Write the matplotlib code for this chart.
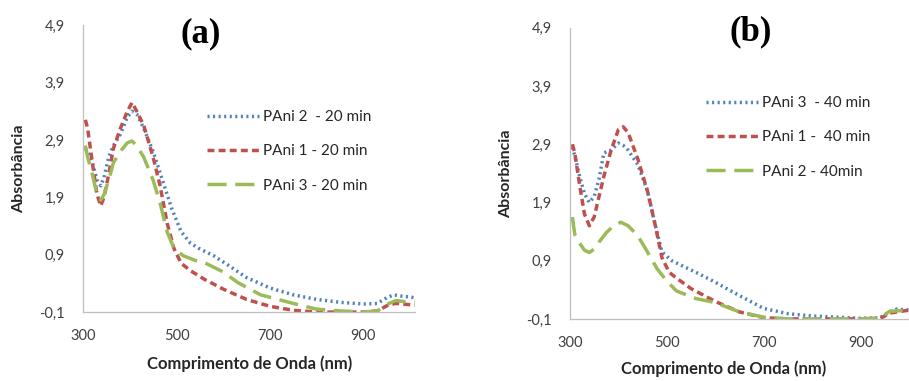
import matplotlib.pyplot as plt

# (a) 20 min
wl_a_blue = [305, 310, 320, 330, 338, 345, 355, 365, 380, 395, 405, 415, 430, 450, 470, 490, 510, 530,
             550, 580, 610, 650, 700, 750, 800, 850, 900, 930, 950, 965, 980, 1000, 1010]
abs_a_blue = [2.75, 2.7, 2.5, 2.2, 2.1, 2.25, 2.6, 2.8, 3.0, 3.3, 3.4, 3.35, 3.1, 2.7, 2.2, 1.7, 1.3, 1.1,
              1.0, 0.88, 0.72, 0.5, 0.32, 0.2, 0.12, 0.07, 0.04, 0.05, 0.15, 0.2, 0.18, 0.16, 0.15]
wl_a_red = [305, 310, 320, 330, 338, 345, 355, 365, 380, 395, 405, 415, 430, 450, 465, 480, 495, 510,
            530, 560, 600, 650, 700, 750, 800, 900, 930, 955, 970, 1010]
abs_a_red = [3.25, 3.1, 2.5, 1.95, 1.75, 1.9, 2.3, 2.75, 3.1, 3.4, 3.55, 3.4, 3.15, 2.6, 2.1, 1.45, 1.0, 0.75,
             0.62, 0.47, 0.3, 0.12, 0.0, -0.07, -0.1, -0.1, -0.08, 0.03, 0.05, 0.02]
wl_a_green = [305, 310, 320, 330, 338, 345, 355, 365, 380, 395, 405, 415, 430, 450, 465, 480, 495, 515,
              540, 560, 600, 630, 680, 750, 800, 850, 900, 930, 955, 970, 990, 1010]
abs_a_green = [2.8, 2.6, 2.3, 1.95, 1.85, 1.95, 2.2, 2.5, 2.7, 2.85, 2.88, 2.8, 2.6, 2.2, 1.8, 1.3, 1.0, 0.88,
               0.8, 0.76, 0.6, 0.42, 0.2, 0.05, -0.05, -0.08, -0.1, -0.08, 0.05, 0.1, 0.08, 0.07]

# (b) 40 min
wl_b_blue = [305, 310, 320, 330, 340, 350, 360, 370, 385, 400, 410, 420, 440, 460, 475, 490, 510, 530,
             560, 600, 650, 700, 750, 800, 850, 900, 940, 960, 975, 1000]
abs_b_blue = [2.85, 2.7, 2.35, 2.05, 1.9, 2.0, 2.3, 2.75, 2.8, 2.92, 2.88, 2.8, 2.55, 2.1, 1.55, 1.05, 0.9, 0.82,
              0.7, 0.53, 0.3, 0.08, -0.01, -0.05, -0.07, -0.09, -0.08, 0.02, 0.07, 0.05]
wl_b_red = [305, 310, 320, 330, 340, 350, 360, 370, 385, 400, 410, 420, 440, 460, 475, 490, 505, 520,
            550, 600, 650, 700, 750, 900, 940, 960, 1000]
abs_b_red = [2.9, 2.75, 2.2, 1.7, 1.5, 1.65, 2.0, 2.35, 2.8, 3.15, 3.2, 3.1, 2.65, 2.1, 1.55, 0.95, 0.7, 0.6,
             0.42, 0.2, 0.02, -0.08, -0.1, -0.1, -0.1, 0.0, 0.05]
wl_b_green = [305, 310, 320, 330, 340, 350, 360, 375, 390, 405, 420, 440, 460, 480, 500, 520, 560, 600,
              650, 700, 750, 900, 940, 960, 1000]
abs_b_green = [1.65, 1.35, 1.2, 1.08, 1.04, 1.1, 1.22, 1.38, 1.5, 1.56, 1.5, 1.33, 1.05, 0.76, 0.55, 0.38, 0.25, 0.18,
               0.02, -0.07, -0.1, -0.1, -0.08, 0.03, 0.05]

labels_a = ["PAni 2  - 20 min", "PAni 1 - 20 min", "PAni 3 - 20 min"]
labels_b = ["PAni 3  - 40 min", "PAni 1 -  40 min", "PAni 2 - 40min"]

yticks = [-0.1, 0.9, 1.9, 2.9, 3.9, 4.9]
xticks = [300, 500, 700, 900]

blue = "#4F81BD"
red = "#C0504D"
green = "#9BBB59"

plt.rcParams["font.family"] = ["Lato", "DejaVu Sans"]

fig = plt.figure(figsize=(9.09, 3.81), dpi=100)
ax1 = fig.add_axes([0.0913, 0.181, 0.365, 0.753])
ax2 = fig.add_axes([0.627, 0.163, 0.373, 0.764])


def draw(ax, series, labels, title, title_pos, legend_pos, xmax):
    lines = []
    for (x, y), color, ls in zip(series, [blue, red, green],
                                 [(0, (0.6, 1.0)), (0, (2.0, 1.2)), (0, (5.5, 2.5))]):
        ln, = ax.plot(x, y, color=color, lw=2.5, linestyle=ls)
        lines.append(ln)
    ax.set_xlim(300, xmax)
    ax.set_ylim(-0.1, 4.9)
    ax.set_xticks(xticks)
    ax.set_yticks(yticks)
    ax.set_yticklabels([f"{v:.1f}".replace(".", ",") for v in yticks])
    ax.tick_params(length=0, labelsize=10.5, colors="#404040")
    ax.tick_params(axis="x", pad=12)
    ax.tick_params(axis="y", pad=13)
    for s in ["top", "right"]:
        ax.spines[s].set_visible(False)
    for s in ["left", "bottom"]:
        ax.spines[s].set_color("#BFBFBF")
        ax.spines[s].set_linewidth(0.9)
    ax.set_xlabel("Comprimento de Onda (nm)", fontsize=12, fontweight="bold", color="#262626")
    ax.set_ylabel("Absorbância", fontsize=11.5, fontweight="bold", color="#262626")
    ax.text(title_pos[0], title_pos[1], title, transform=ax.transAxes, ha="center", va="center",
            fontsize=25, fontweight="bold", family="Liberation Serif")
    ax.legend(lines, labels, loc="upper left", bbox_to_anchor=legend_pos, frameon=False,
              fontsize=11, handlelength=3.45, labelspacing=1.33, handletextpad=0.25,
              borderpad=0, borderaxespad=0, labelcolor="#262626")


draw(ax1, [(wl_a_blue, abs_a_blue), (wl_a_red, abs_a_red), (wl_a_green, abs_a_green)],
     labels_a, "(a)", (0.355, 0.969), (0.373, 0.704), 1010)
draw(ax2, [(wl_b_blue, abs_b_blue), (wl_b_red, abs_b_red), (wl_b_green, abs_b_green)],
     labels_b, "(b)", (0.533, 0.986), (0.40, 0.766), 1000)
ax1.yaxis.set_label_coords(-0.172, 0.5)
ax2.yaxis.set_label_coords(-0.169, 0.5)
ax1.xaxis.set_label_coords(0.503, -0.153)
ax2.xaxis.set_label_coords(0.453, -0.144)

fig.savefig("out.png", dpi=100)
